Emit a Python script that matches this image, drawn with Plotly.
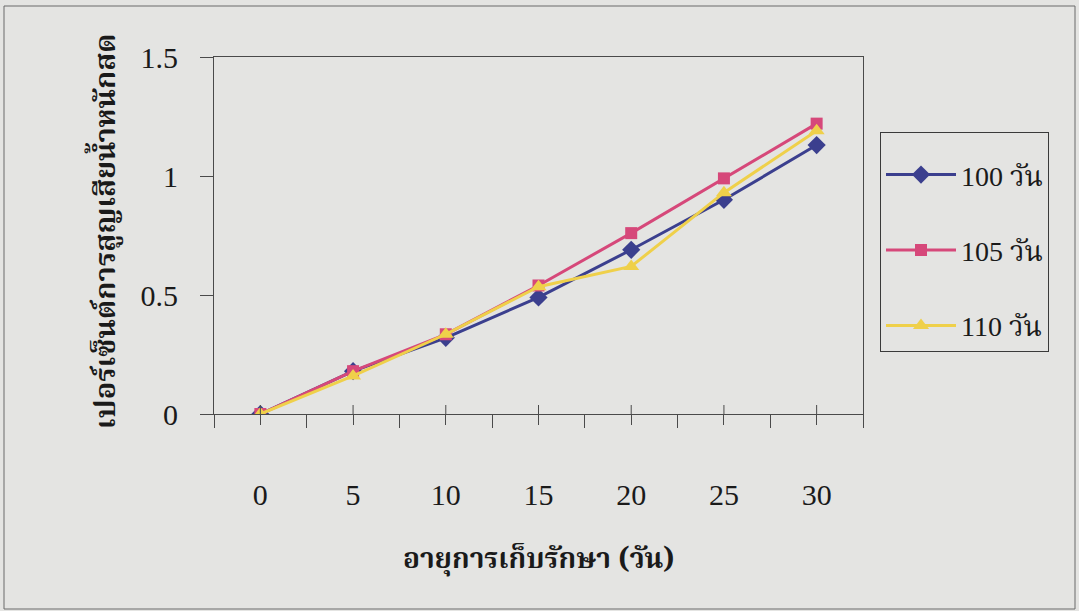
import plotly.graph_objects as go

# Storage days and fresh-weight loss (%) for the three harvest ages
days = [0, 5, 10, 15, 20, 25, 30]
loss_100 = [0.0, 0.18, 0.32, 0.49, 0.69, 0.90, 1.13]
loss_105 = [0.0, 0.18, 0.335, 0.54, 0.76, 0.99, 1.22]
loss_110 = [0.0, 0.16, 0.335, 0.535, 0.62, 0.93, 1.19]
series_names = ["100 วัน", "105 วัน", "110 วัน"]
y_ticks = [0, 0.5, 1, 1.5]
x_title = "อายุการเก็บรักษา (วัน)"
y_title = "เปอร์เซ็นต์การสูญเสียน้ำหนักสด"

W, H = 1079, 611
L, R, T, B = 214, 863, 57, 414  # plot area in pixels
BG = "#e4e4e2"
AXIS = "#4a4a4a"
NUM_FONT = "Liberation Serif, Times New Roman, serif"
THAI_FONT = "Noto Serif Thai, Noto Sans Thai, Loma, Garuda, serif"


def px_x(p):
    return (p - L) / (R - L)


def px_y(p):
    return (B - p) / (B - T)


styles = [
    dict(color="#3b3f8e", symbol="diamond", size=14),
    dict(color="#d6487a", symbol="square", size=12),
    dict(color="#efd04a", symbol="triangle-up", size=14),
]

fig = go.Figure()
for name, vals, st in zip(series_names, [loss_100, loss_105, loss_110], styles):
    fig.add_trace(go.Scatter(
        x=days, y=vals, name=name, mode="lines+markers",
        legendgroup=name,
        line=dict(color=st["color"], width=3),
        marker=dict(color=st["color"], symbol=st["symbol"], size=st["size"]),
    ))

# upper half of the major x ticks (they cross the axis line)
shapes = [
    dict(type="line", xref="x", yref="y", ysizemode="pixel", yanchor=0,
         x0=d, x1=d, y0=0, y1=9, line=dict(color=AXIS, width=1))
    for d in days
]
# outer chart frame
shapes.append(dict(type="rect", xref="paper", yref="paper",
                   x0=px_x(4), x1=px_x(1075), y0=px_y(609), y1=px_y(6),
                   line=dict(color="#6a6a6a", width=1), layer="below"))

fig.update_layout(
    width=W, height=H, autosize=False,
    margin=dict(l=L, r=W - R, t=T, b=H - B, pad=0),
    paper_bgcolor=BG, plot_bgcolor=BG,
    shapes=shapes,
    showlegend=True,
    legend=dict(
        x=px_x(880), y=px_y(132), xanchor="left", yanchor="top",
        bgcolor=BG, bordercolor="#3a3a3a", borderwidth=1,
        font=dict(family=NUM_FONT + ", " + THAI_FONT, size=28, color="#1a1a1a"),
        title=dict(text=" ", font=dict(size=13)),
        tracegroupgap=36, itemwidth=70,
    ),
    xaxis=dict(
        range=[-2.5, 32.5], tickmode="array", tickvals=days,
        ticktext=[str(d) for d in days],
        ticks="outside", ticklen=10, tickcolor=AXIS, tickwidth=1,
        minor=dict(tick0=-2.5, dtick=5, ticks="outside", ticklen=13,
                   tickcolor=AXIS, tickwidth=1, showgrid=False),
        showline=True, linecolor=AXIS, linewidth=1, mirror=True,
        showgrid=False, zeroline=False, ticklabelstandoff=44,
        tickfont=dict(family=NUM_FONT, size=30, color="#1a1a1a"),
    ),
    yaxis=dict(
        range=[0, 1.5], tickmode="array", tickvals=y_ticks,
        ticktext=["0", "0.5", "1", "1.5"],
        ticks="outside", ticklen=13, tickcolor=AXIS, tickwidth=1,
        showline=True, linecolor=AXIS, linewidth=1, mirror=True,
        showgrid=False, zeroline=False, ticklabelstandoff=16,
        tickfont=dict(family=NUM_FONT, size=30, color="#1a1a1a"),
    ),
    annotations=[
        dict(text="<b>" + x_title + "</b>", xref="paper", yref="paper",
             x=0.5, y=px_y(560), xanchor="center", yanchor="middle",
             showarrow=False,
             font=dict(family=THAI_FONT, size=28, color="#1a1a1a")),
        dict(text="<b>" + y_title + "</b>", xref="paper", yref="paper",
             x=px_x(107), y=px_y(231), xanchor="center", yanchor="middle",
             showarrow=False, textangle=-90,
             font=dict(family=THAI_FONT, size=29, color="#1a1a1a")),
    ],
)

fig.write_html("out.html")
